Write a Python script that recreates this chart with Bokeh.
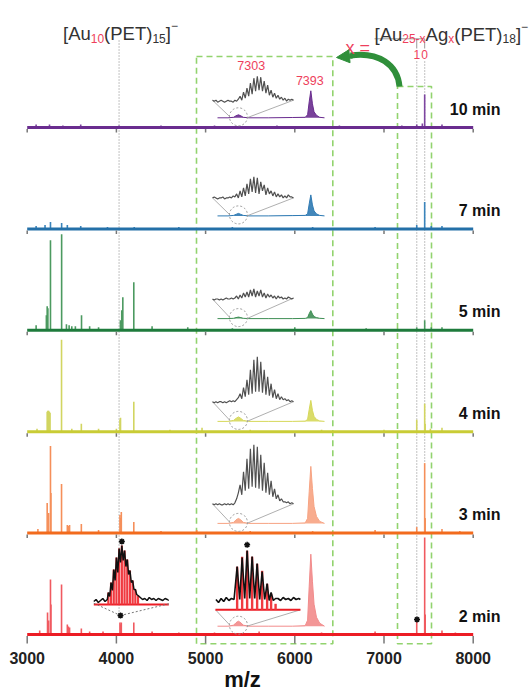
from bokeh.plotting import figure
from bokeh.models import Range1d, Arrow, NormalHead
from bokeh.embed import file_html
from bokeh.resources import INLINE
from bokeh.core.properties import value

# ---------------- data ----------------
TIMES = ["2 min", "3 min", "4 min", "5 min", "7 min", "10 min"]
TICKS = [3000, 4000, 5000, 6000, 7000, 8000]
TICK_LABELS = ["3000", "4000", "5000", "6000", "7000", "8000"]

MZ_2 = [3140, 3228, 3240, 3261, 3266, 3385, 3450, 3462, 3475, 3607, 3700, 3850, 4040, 4048, 4055, 4195, 4400, 4700, 5100, 5600, 6300, 6900, 7367, 7456, 7462, 7650, 7800]
I_2 = [4, 22, 14, 55, 30, 50, 10, 8, 7, 6, 3, 3, 12, 10, 12, 12, 3, 2, 2, 3, 2, 3, 14, 97, 20, 4, 2]
MZ_3 = [3120, 3224, 3240, 3261, 3266, 3385, 3450, 3462, 3475, 3607, 3800, 4040, 4048, 4055, 4195, 4500, 4900, 5500, 6200, 6900, 7367, 7456, 7462, 7650, 7850]
I_3 = [4, 30, 20, 87, 40, 49, 8, 7, 8, 9, 3, 18, 15, 21, 11, 2, 3, 2, 2, 3, 6, 70, 15, 4, 2]
MZ_4 = [3110, 3224, 3232, 3240, 3248, 3256, 3385, 3500, 3607, 3800, 4000, 4040, 4046, 4195, 4600, 4960, 5500, 6300, 7000, 7367, 7456, 7462, 7520, 7650]
I_4 = [3, 20, 21, 21, 20, 19, 92, 3, 8, 3, 3, 12, 14, 30, 2, 4, 2, 2, 2, 12, 28, 8, 3, 4]
MZ_5 = [3100, 3215, 3224, 3232, 3261, 3386, 3440, 3470, 3500, 3540, 3609, 3700, 3800, 4045, 4060, 4072, 4195, 4400, 4800, 5300, 6000, 6800, 7367, 7456, 7530, 7650]
I_5 = [5, 15, 24, 22, 90, 96, 6, 5, 4, 4, 15, 4, 3, 10, 20, 33, 48, 4, 3, 2, 3, 2, 3, 10, 3, 3]
MZ_7 = [3100, 3200, 3261, 3386, 3450, 3600, 3900, 4200, 4700, 5300, 6200, 6900, 7367, 7456, 7530, 7650]
I_7 = [3, 4, 7, 6, 4, 3, 2, 2, 2, 2, 2, 2, 4, 27, 3, 3]
MZ_10 = [3100, 3250, 3400, 3600, 4030, 4500, 5100, 5800, 6500, 7200, 7367, 7430, 7456, 7650]
I_10 = [3, 3, 2, 3, 2, 2, 2, 2, 2, 2, 3, 4, 33, 3]

# inset: region around 7303 / 7393
INSET_MZ = [7277, 7290, 7297, 7300, 7303, 7306, 7309, 7316, 7340, 7370, 7386, 7389, 7391, 7393, 7395, 7397, 7400, 7404, 7410]
INSET_2 = [0, 0, 1, 3.5, 5, 3.5, 1, 0, 0, 0, 0.5, 6, 40, 72, 45, 22, 9, 3, 0]
INSET_3 = [0, 0, 1, 3.5, 5, 3.5, 1, 0, 0, 0, 0.5, 5, 32, 57, 35, 17, 7, 2, 0]
INSET_4 = [0, 0, 1, 3, 4.5, 3, 1, 0, 0, 0, 0.3, 2, 12, 21, 11, 5, 2, 0.5, 0]
INSET_5 = [0, 0, 0.3, 1, 1.5, 1, 0.3, 0, 0, 0, 0.2, 1, 5, 8, 4.5, 2, 1, 0.3, 0]
INSET_7 = [0, 0, 0.5, 1.5, 2.5, 1.5, 0.5, 0, 0, 0.3, 0.5, 2, 12, 21, 11, 5, 2, 0.5, 0]
INSET_10 = [0, 0, 0.5, 2, 3, 2, 0.5, 0, 0, 0.3, 0.5, 3, 16, 27, 14, 6, 2.5, 0.5, 0]

# zoomed 7303 cluster (grey traces)
Z_3 = [3, 2, 3, 2, 3, 2, 2, 3, 2, 3, 2, 3, 2, 4, 8, 14, 22, 12, 35, 16, 48, 18, 58, 20, 62, 19, 60, 18, 52, 16, 44, 14, 34, 12, 26, 10, 18, 8, 12, 6, 8, 5, 5, 4, 5, 3, 4, 3]
Z_4 = [2, 1, 2, 1, 2, 2, 1, 2, 1, 2, 3, 2, 3, 2, 4, 6, 10, 5, 16, 7, 24, 9, 34, 10, 44, 12, 47, 12, 42, 11, 34, 9, 27, 8, 20, 6, 14, 5, 10, 4, 7, 4, 5, 3, 4, 2, 3, 2]
Z_5 = [2, 1, 2, 2, 1, 2, 1, 2, 3, 2, 2, 3, 2, 3, 5, 2, 6, 3, 8, 4, 9, 4, 11, 5, 12, 4, 10, 5, 11, 4, 8, 3, 7, 4, 6, 3, 5, 2, 5, 3, 4, 2, 3, 2, 4, 3, 2, 3]
Z_7 = [2, 3, 2, 1, 2, 2, 3, 1, 2, 2, 3, 2, 4, 3, 6, 2, 9, 3, 12, 4, 16, 6, 21, 8, 23, 7, 22, 6, 18, 9, 15, 5, 12, 6, 9, 4, 8, 3, 6, 3, 5, 2, 4, 2, 5, 3, 3, 2]
Z_10 = [3, 2, 3, 1, 2, 3, 2, 1, 2, 3, 2, 2, 1, 3, 2, 4, 7, 3, 11, 5, 15, 7, 20, 9, 25, 12, 27, 13, 26, 12, 22, 10, 18, 8, 13, 6, 10, 5, 8, 4, 6, 3, 5, 2, 4, 3, 4, 3]

# 2 min: experimental (black) vs simulated (red), right cluster
R_BLACK_X = [2, 3.5, 5, 6.5, 8, 9.5, 11, 12.5, 14.3, 15.8, 17.2, 18.7, 20.1, 21.6, 23.0, 24.5, 25.9, 27.4, 28.8, 30.3, 31.7, 32.9, 34.0, 35.3, 36.6, 38, 39.5, 41, 42.5, 44, 45.5, 47, 48.5, 50, 51]
R_BLACK_Y = [2, -1, 3, 0, 4, 1, 3, 2, 35, 2, 44, 3, 51, 3, 45, 3, 38, 2, 30, 2, 18, 1, 9, 1, 3, 3, 1, 4, 2, 3, 1, 4, 2, 3, 2]
R_RED_X = [14.3, 17.2, 20.1, 23.0, 25.9, 28.8, 31.7, 34.0, 36.6]
R_RED_Y = [43, 53, 59, 53, 46, 39, 26, 16, 6]
# 2 min: left cluster (Au10)
L_BLACK_X = [0, 1.5, 3, 4.5, 6, 7.5, 9, 9.7, 10.6, 11.5, 12.4, 13.3, 14.2, 15.1, 16.0, 16.9, 17.8, 18.7, 19.6, 20.5, 21.4, 22.3, 23.2, 24.1, 25.0, 25.9, 26.8, 27.7, 28.6, 29.5, 31, 32.5, 34, 35.5, 37, 38.5, 40, 41.5, 43, 44.5, 46, 47.5, 49, 50]
L_BLACK_Y = [1, 3, 0, 2, 4, 1, 3, 10, 6, 20, 12, 33, 22, 45, 30, 54, 40, 57, 42, 52, 36, 43, 28, 32, 20, 22, 13, 13, 8, 7, 5, 3, 4, 2, 5, 3, 4, 2, 4, 3, 2, 4, 3, 2]
L_RED_X = [9.7, 11.5, 13.3, 15.1, 16.9, 18.7, 20.5, 22.3, 24.1, 25.9, 27.7, 29.5]
L_RED_Y = [12, 22, 35, 47, 56, 59, 54, 45, 34, 24, 15, 9]

SPECTRA = [(MZ_2, I_2), (MZ_3, I_3), (MZ_4, I_4), (MZ_5, I_5), (MZ_7, I_7), (MZ_10, I_10)]
INSETS = [INSET_2, INSET_3, INSET_4, INSET_5, INSET_7, INSET_10]
ZOOMS = [None, Z_3, Z_4, Z_5, Z_7, Z_10]

# ---------------- styles / layout ----------------
FONT = "Liberation Sans"
COL = ["#ec1c24", "#f26b1d", "#c9cc35", "#1e7b3c", "#2470a8", "#6a2d8f"]
PEAK_COL = ["#f05a60", "#f58f5a", "#d2d561", "#4c9a60", "#3a84bb", "#7d45a0"]
INSET_COL = ["#f28b8b", "#f7a382", "#d6d85a", "#3f8f55", "#2f7ab3", "#6a2d8f"]
RED_TXT = "#ee3f5c"
DARK = "#333333"
GREEN_BOX = "#92d36e"
ARROW_G = "#2f8f3a"

W, H = 530, 693
OFF = 0
PX_PER_MZ = 446.0 / 5000.0
X0 = 3000 - (26.7 - OFF) / PX_PER_MZ
X1 = X0 + W / PX_PER_MZ


def dx(px):
    return X0 + (px - OFF) / PX_PER_MZ


def dy(py):
    return (H + OFF) - py


def anchored_range(va, pa, vb, pb):
    k = (pb - pa) / (vb - va)
    start = va - (pa - OFF) / k
    return Range1d(start, start + W / k)


BASE = [dy(634 - 101.4 * i) for i in range(6)]
INSET_LIFT = [8.3, 9.7, 10.3, 11.7, 13, 9.7]
ZOOM_LIFT = [16.4, 16.6, 17.7, 17.6, 16, 14.6]

p = figure(width=W, height=H, x_range=Range1d(X0, X1), y_range=Range1d(0, H),
           output_backend="svg", toolbar_location=None, min_border=0,
           x_axis_type=None, y_axis_type=None, outline_line_color=None)
p.extra_x_ranges = {
    "inset": anchored_range(7277, 217, 7410, 324),
    "zoom": anchored_range(0, 212, 47, 293),
    "zoomL": anchored_range(0, 93.3, 50, 168.3),
}

# green dashed boxes
p.quad(left=[dx(196), dx(397)], right=[dx(332.3), dx(431)], top=[dy(56), dy(86)],
       bottom=[dy(643.3), dy(643.3)], fill_color=None, line_color=GREEN_BOX,
       line_dash="6 4", line_width=1.6)

# dotted guide lines
p.segment(x0=[4030, 7367, 7456], y0=[dy(40), dy(61), dy(61)], x1=[4030, 7367, 7456],
          y1=[dy(615), dy(617), dy(463)], line_color="#9a9a9a", line_dash="1 2", line_width=1.2)
p.segment(x0=[7367, 7456], y0=[dy(38.3)] * 2, x1=[7367, 7456], y1=[dy(48)] * 2,
          line_color="#9a9a9a", line_width=1)
p.segment(x0=[dx(374)], y0=[dy(38.3)], x1=[7456], y1=[dy(38.3)], line_color="#9a9a9a", line_width=1)
p.text(x=[7367, 7456], y=[dy(54)] * 2, text=["1", "0"], text_font=value(FONT),
       text_font_size=value("12px"), text_color=RED_TXT, text_align="center", text_baseline="middle")

# spectra
for i, (mz, inten) in enumerate(SPECTRA):
    b = BASE[i]
    p.segment(x0=mz, y0=[b] * len(mz), x1=mz, y1=[b + v for v in inten],
              line_color=PEAK_COL[i], line_width=1.6)
    p.line(x=[TICKS[0], TICKS[-1]], y=[b, b], line_color=COL[i], line_width=3)
    tl = 9 if i == 0 else 5
    p.segment(x0=TICKS, y0=[b - 1.5] * len(TICKS), x1=TICKS, y1=[b - tl] * len(TICKS),
              line_color="#777777", line_width=1.5)
    p.text(x=[dx(500)], y=[b + 18.5], text=[TIMES[i]], text_font=value(FONT),
           text_font_size=value("16px"), text_font_style="bold", text_color="#111111",
           text_align="right", text_baseline="middle")

    # inset
    ib = b + INSET_LIFT[i]
    ins = INSETS[i]
    p.varea(x=INSET_MZ, y1=[ib] * len(ins), y2=[ib + v for v in ins], fill_color=INSET_COL[i],
            fill_alpha=0.9, x_range_name="inset")
    p.line(x=INSET_MZ, y=[ib + v for v in ins], line_color=INSET_COL[i], line_width=1,
           x_range_name="inset")
    p.scatter(x=[7303], y=[ib + 1], size=18, marker="circle", fill_color=None,
              line_color="#9a9a9a", line_dash="2 2", line_width=1, x_range_name="inset")
    zb = ib + ZOOM_LIFT[i]
    if ZOOMS[i] is not None:
        z = ZOOMS[i]
        p.segment(x0=[dx(212), dx(293)], y0=[zb + z[0], zb + z[-1]],
                  x1=[dx(229.4), dx(246.4)], y1=[ib + 1, ib], line_color="#9a9a9a", line_width=0.8)
        p.line(x=list(range(len(z))), y=[zb + v for v in z], line_color="#505050",
               line_width=1.2, x_range_name="zoom")
    else:
        # 2 min: simulated (red) vs experimental (black)
        p.segment(x0=[dx(215), dx(300)], y0=[zb, zb], x1=[dx(229.4), dx(246.4)],
                  y1=[ib + 1, ib], line_color="#9a9a9a", line_width=0.8)
        p.line(x=[1.7, 51], y=[zb, zb], line_color=COL[0], line_width=2, x_range_name="zoom")
        p.segment(x0=R_RED_X, y0=[zb] * len(R_RED_X), x1=R_RED_X, y1=[zb + v for v in R_RED_Y],
                  line_color="#f03a40", line_width=2.4, x_range_name="zoom")
        kb = zb + 8.3
        p.line(x=R_BLACK_X, y=[kb + v for v in R_BLACK_Y], line_color="#111111", line_width=1.6,
               x_range_name="zoom")
        p.scatter(x=[20.1], y=[zb + R_RED_Y[2] + 6], marker="asterisk", size=6,
                  line_color="#111111", line_width=1.5, x_range_name="zoom")
        # left cluster
        lb = dy(602)
        p.line(x=[0, 50], y=[lb - 2, lb - 2], line_color=COL[0], line_width=2, x_range_name="zoomL")
        p.segment(x0=L_RED_X, y0=[lb - 2] * len(L_RED_X), x1=L_RED_X, y1=[lb - 2 + v for v in L_RED_Y],
                  line_color="#f03a40", line_width=2.2, x_range_name="zoomL")
        p.line(x=L_BLACK_X, y=[lb + v for v in L_BLACK_Y], line_color="#111111", line_width=1.5,
               x_range_name="zoomL")
        p.scatter(x=[18.7], y=[lb - 2 + L_RED_Y[5] + 4], marker="asterisk", size=6,
                  line_color="#111111", line_width=1.5, x_range_name="zoomL")
        p.segment(x0=[dx(93.3), dx(168.3)], y0=[dy(602.7), dy(603.3)], x1=[dx(120)] * 2,
                  y1=[dy(615)] * 2, line_color="#777777", line_dash="2 2", line_width=1)
        p.scatter(x=[dx(120), 7370], y=[dy(615), b + 15], marker="asterisk", size=6,
                  line_color="#111111", line_width=1.5)

# peak labels in top inset
p.text(x=[dx(250.7), dx(309.3)], y=[dy(65), dy(80)], text=["7303", "7393"], text_font=value(FONT),
       text_font_size=value("12.5px"), text_color=RED_TXT, text_align="center", text_baseline="middle")

# green curved arrow
p.bezier(x0=[dx(399)], y0=[dy(86)], x1=[dx(350)], y1=[dy(55)], cx0=[dx(397)], cy0=[dy(64)],
         cx1=[dx(378)], cy1=[dy(51)], line_color=ARROW_G, line_width=6)
p.add_layout(Arrow(end=NormalHead(size=13, fill_color=ARROW_G, line_color=ARROW_G),
                   x_start=dx(352), y_start=dy(55.5), x_end=dx(336), y_end=dy(57),
                   line_color=ARROW_G, line_width=5))

# x tick labels and title
p.text(x=TICKS, y=[dy(657)] * len(TICKS), text=TICK_LABELS, text_font=value(FONT),
       text_font_size=value("16px"), text_font_style="bold", text_color="#222222",
       text_align="center", text_baseline="middle")
p.text(x=[dx(242)], y=[dy(679)], text=["m/z"], text_font=value(FONT),
       text_font_size=value("22px"), text_font_style="bold", text_color="#111111",
       text_align="center", text_baseline="alphabetic")

# formula labels
AW = {'[': 278, ']': 278, '(': 333, ')': 333, 'A': 667, 'u': 556, 'g': 556, 'P': 667,
      'E': 667, 'T': 611, '-': 333, 'x': 500, '\u2212': 584, ' ': 278, '=': 584}


def tw(s, size):
    return sum(AW.get(c, 556) for c in s) * size / 1000.0


def rich(x_page, base_page, pieces, main=18.5, small=12.0):
    x = x_page
    for txt, kind, col in pieces:
        size = main if kind == "n" else small
        yb = base_page + (4.5 if kind == "sub" else (-8 if kind == "sup" else 0))
        p.text(x=[dx(x)], y=[dy(yb)], text=[txt], text_font=value(FONT),
               text_font_size=value(f"{size}px"), text_color=col,
               text_align="left", text_baseline="alphabetic")
        x += tw(txt, size)


rich(62.5, 33, [("[Au", "n", DARK), ("10", "sub", RED_TXT), ("(PET)", "n", DARK),
                ("15", "sub", DARK), ("]", "n", DARK), ("\u2212", "sup", DARK)])
rich(374, 33.5, [("[Au", "n", DARK), ("25-x", "sub", RED_TXT), ("Ag", "n", DARK),
                 ("x", "sub", RED_TXT), ("(PET)", "n", DARK), ("18", "sub", DARK),
                 ("]", "n", DARK), ("\u2212", "sup", DARK)])
p.text(x=[dx(345)], y=[dy(47)], text=["x ="], text_font=value(FONT),
       text_font_size=value("18px"), text_color=RED_TXT, text_align="left",
       text_baseline="alphabetic")

open("out.html", "w").write(file_html(p, INLINE))
